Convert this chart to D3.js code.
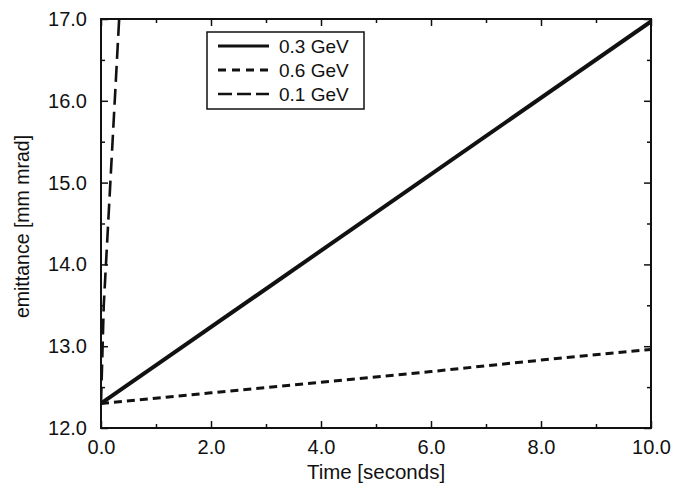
<!DOCTYPE html>
<html>
<head>
<meta charset="utf-8">
<script src="https://cdn.jsdelivr.net/npm/d3@7"></script>
<style>
  body { margin: 0; background: #fff; }
  svg text { font-family: "Liberation Sans", Arial, sans-serif; fill: #111; }
</style>
</head>
<body>
<svg id="chart" width="676" height="484"></svg>
<script>
// data
const time03 = [0, 10];
const emit03 = [12.3, 16.97];
const time06 = [0, 2, 4, 6, 8, 10];
const emit06 = [12.3, 12.43, 12.56, 12.69, 12.83, 12.96];
const time01 = [0, 0.05, 0.33];
const emit01 = [12.3, 13.5, 17.0];
const seriesNames = ['0.3 GeV', '0.6 GeV', '0.1 GeV'];
const xMajor = [0, 2, 4, 6, 8, 10];
const xMinor = [1, 3, 5, 7, 9];
const yMajor = [12, 13, 14, 15, 16, 17];
const yMinor = [12.5, 13.5, 14.5, 15.5, 16.5];

const margin = { top: 19, right: 25, bottom: 56, left: 101 };
const width = 676;
const height = 484;

const x = d3.scaleLinear().domain([0, 10]).range([margin.left, width - margin.right]);
const y = d3.scaleLinear().domain([12, 17]).range([height - margin.bottom, margin.top]);

const svg = d3.select('#chart');

const series = [
  { name: seriesNames[0], pts: d3.zip(time03, emit03), width: 4, dash: null },
  { name: seriesNames[1], pts: d3.zip(time06, emit06), width: 3, dash: '8,5' },
  { name: seriesNames[2], pts: d3.zip(time01, emit01), width: 2.6, dash: '16,7' },
];

svg.append('clipPath').attr('id', 'clip')
  .append('rect')
  .attr('x', x(0)).attr('y', y(17))
  .attr('width', x(10) - x(0)).attr('height', y(12) - y(17));

const line = d3.line().x((d) => x(d[0])).y((d) => y(d[1]));

svg.append('g').attr('clip-path', 'url(#clip)')
  .selectAll('path')
  .data(series)
  .join('path')
  .attr('d', (d) => line(d.pts))
  .attr('fill', 'none')
  .attr('stroke', '#111')
  .attr('stroke-width', (d) => d.width)
  .attr('stroke-dasharray', (d) => d.dash);

// ticks, pointing inward on all four sides
const fmt = d3.format('.1f');
const axisStyle = (g) => g.call((g) => g.selectAll('.tick line').attr('stroke', '#111').attr('stroke-width', 1.5));

svg.append('g')
  .attr('transform', `translate(0,${y(12)})`)
  .call(d3.axisBottom(x).tickValues(xMajor).tickSizeInner(-7).tickSizeOuter(0).tickPadding(12).tickFormat(fmt))
  .call(axisStyle)
  .call((g) => g.select('.domain').remove())
  .call((g) => g.selectAll('text').attr('font-size', 20));
svg.append('g')
  .attr('transform', `translate(0,${y(12)})`)
  .call(d3.axisBottom(x).tickValues(xMinor).tickSizeInner(-4).tickSizeOuter(0).tickFormat(''))
  .call(axisStyle)
  .call((g) => g.select('.domain').remove());
svg.append('g')
  .attr('transform', `translate(0,${y(17)})`)
  .call(d3.axisTop(x).tickValues(xMajor).tickSizeInner(-7).tickSizeOuter(0).tickFormat(''))
  .call(axisStyle)
  .call((g) => g.select('.domain').remove());
svg.append('g')
  .attr('transform', `translate(0,${y(17)})`)
  .call(d3.axisTop(x).tickValues(xMinor).tickSizeInner(-4).tickSizeOuter(0).tickFormat(''))
  .call(axisStyle)
  .call((g) => g.select('.domain').remove());

svg.append('g')
  .attr('transform', `translate(${x(0)},0)`)
  .call(d3.axisLeft(y).tickValues(yMajor).tickSizeInner(-7).tickSizeOuter(0).tickPadding(14).tickFormat(fmt))
  .call(axisStyle)
  .call((g) => g.select('.domain').remove())
  .call((g) => g.selectAll('text').attr('font-size', 20));
svg.append('g')
  .attr('transform', `translate(${x(0)},0)`)
  .call(d3.axisLeft(y).tickValues(yMinor).tickSizeInner(-4).tickSizeOuter(0).tickFormat(''))
  .call(axisStyle)
  .call((g) => g.select('.domain').remove());
svg.append('g')
  .attr('transform', `translate(${x(10)},0)`)
  .call(d3.axisRight(y).tickValues(yMajor).tickSizeInner(-7).tickSizeOuter(0).tickFormat(''))
  .call(axisStyle)
  .call((g) => g.select('.domain').remove());
svg.append('g')
  .attr('transform', `translate(${x(10)},0)`)
  .call(d3.axisRight(y).tickValues(yMinor).tickSizeInner(-4).tickSizeOuter(0).tickFormat(''))
  .call(axisStyle)
  .call((g) => g.select('.domain').remove());

// frame
svg.append('rect')
  .attr('x', x(0)).attr('y', y(17))
  .attr('width', x(10) - x(0)).attr('height', y(12) - y(17))
  .attr('fill', 'none')
  .attr('stroke', '#111')
  .attr('stroke-width', 2);

// axis titles
svg.append('text')
  .attr('x', (x(0) + x(10)) / 2)
  .attr('y', 479)
  .attr('text-anchor', 'middle')
  .attr('font-size', 20.5)
  .text('Time [seconds]');
svg.append('text')
  .attr('transform', `translate(29,${(y(12) + y(17)) / 2 + 3}) rotate(-90)`)
  .attr('text-anchor', 'middle')
  .attr('font-size', 19.5)
  .text('emittance [mm mrad]');

// legend
const legend = svg.append('g').attr('transform', 'translate(207,32)');
legend.append('rect')
  .attr('width', 157).attr('height', 77)
  .attr('fill', '#fff')
  .attr('stroke', '#111')
  .attr('stroke-width', 1.5);
const legendDash = [null, '8,6', '14,5'];
const rows = legend.selectAll('g.row')
  .data(series)
  .join('g')
  .attr('class', 'row')
  .attr('transform', (d, i) => `translate(0,${14 + i * 24})`);
rows.append('line')
  .attr('x1', 11).attr('x2', 62)
  .attr('stroke', '#111')
  .attr('stroke-width', (d) => Math.min(d.width, 3))
  .attr('stroke-dasharray', (d, i) => legendDash[i]);
rows.append('text')
  .attr('x', 72)
  .attr('dy', '0.36em')
  .attr('font-size', 19)
  .text((d) => d.name);
</script>
</body>
</html>
